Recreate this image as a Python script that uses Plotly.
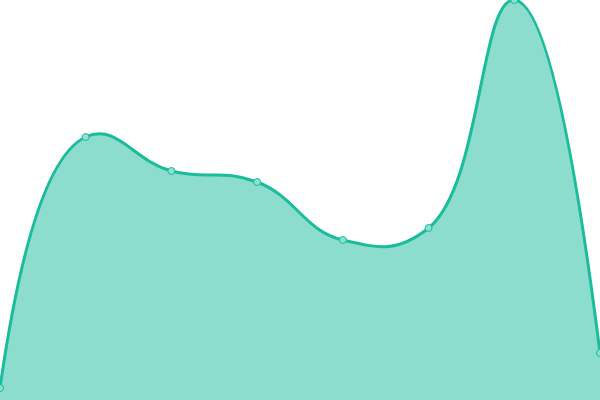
import plotly.graph_objects as go

x_vals = [0, 1, 2, 3, 4, 5, 6, 7]
y_vals = [3, 65.75, 57.25, 54.5, 40, 43, 100, 11.75]

fig = go.Figure()
fig.add_trace(go.Scatter(
    x=x_vals, y=y_vals,
    mode="lines+markers",
    line=dict(color="#1abc9c", width=3, shape="spline", smoothing=1.3),
    marker=dict(size=7, color="#8ce0cf", line=dict(color="#1abc9c", width=1)),
    fill="tozeroy",
    fillcolor="rgba(26,188,156,0.5)",
    hoverinfo="skip",
    cliponaxis=False,
))
fig.update_layout(
    width=600, height=400,
    margin=dict(l=0, r=0, t=0, b=0),
    paper_bgcolor="white", plot_bgcolor="white",
    showlegend=False,
    xaxis=dict(visible=False, range=[0, 7], fixedrange=True),
    yaxis=dict(visible=False, range=[0, 100], fixedrange=True),
)
fig.write_html(
    "out.html",
    config={"displayModeBar": False},
    post_script="document.body.style.margin='0';document.body.style.overflow='hidden';",
)
